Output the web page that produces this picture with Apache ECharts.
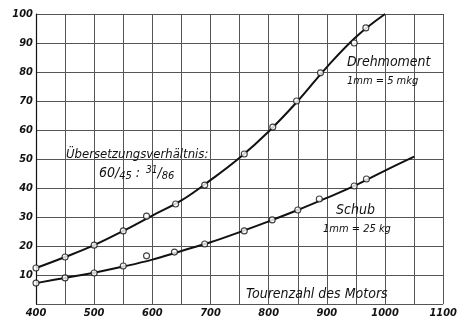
<!DOCTYPE html>
<html>
<head>
<meta charset="utf-8">
<script src="https://cdn.jsdelivr.net/npm/echarts@6/dist/echarts.min.js"></script>
<style>
  html, body { margin: 0; padding: 0; background: #fff; }
  #chart { width: 460px; height: 321px; }
</style>
</head>
<body>
<div id="chart"></div>
<script>
// Engine speed (rpm) for the faired curves
const torqueRpm = [400, 450, 500, 550, 600, 650, 700, 750, 800, 850, 900, 950, 1000];
const torqueCurve = [12.4, 16.2, 20.3, 25.2, 30.5, 35.7, 42.7, 50.4, 59.5, 70.0, 81.7, 92.1, 100];
const thrustRpm = [400, 450, 500, 550, 600, 650, 700, 750, 800, 850, 900, 950, 1000, 1050];
const thrustCurve = [7.2, 9.0, 10.8, 12.9, 15.3, 18.3, 21.3, 24.8, 28.5, 32.4, 36.6, 41.0, 46.0, 50.8];

// Measured points (rpm, reading in mm)
const torqueMeasRpm = [400, 450, 500, 550, 590, 640, 690, 758, 807, 848, 889, 947, 967];
const torqueMeas = [12.4, 16.2, 20.3, 25.2, 30.3, 34.5, 41.0, 51.7, 61.0, 70.0, 79.7, 90.0, 95.2];
const thrustMeasRpm = [400, 450, 500, 550, 590, 638, 690, 758, 806, 850, 887, 947, 968];
const thrustMeas = [7.2, 9.0, 10.7, 13.1, 16.6, 17.9, 20.7, 25.2, 29.0, 32.4, 36.2, 40.7, 43.1];

// Axis ticks
const xTicks = [400, 500, 600, 700, 800, 900, 1000, 1100];
const yTicks = [10, 20, 30, 40, 50, 60, 70, 80, 90, 100];

const pair = (xs, ys) => xs.map((x, i) => [x, ys[i]]);

const FONT = '"DejaVu Sans Condensed", "DejaVu Sans", sans-serif';
const gridColor = '#555';
const ink = '#111';

const chart = echarts.init(document.getElementById('chart'), null, { renderer: 'canvas' });

const tickLabel = {
  color: ink, fontSize: 11, fontStyle: 'italic', fontWeight: 'bold', fontFamily: FONT
};

chart.setOption({
  backgroundColor: '#fff',
  animation: false,
  grid: { left: 36, top: 14, right: 12, bottom: 17 },
  xAxis: {
    type: 'value', min: 400, max: 1100, interval: 50,
    axisLine: { show: false },
    axisTick: { show: false },
    axisLabel: Object.assign({ margin: 4, formatter: v => (xTicks.indexOf(v) >= 0 ? String(v) : '') }, tickLabel),
    splitLine: { show: true, lineStyle: { color: gridColor, width: 1 } }
  },
  yAxis: {
    type: 'value', min: 0, max: 100, interval: 10,
    axisLine: { show: true, lineStyle: { color: ink, width: 1.2 } },
    axisTick: { show: false },
    axisLabel: Object.assign({ margin: 3, formatter: v => (yTicks.indexOf(v) >= 0 ? String(v) : '') }, tickLabel),
    splitLine: { show: true, lineStyle: { color: gridColor, width: 1 } }
  },
  series: [
    {
      name: 'Drehmoment', type: 'line', smooth: 0.4, symbol: 'none',
      data: pair(torqueRpm, torqueCurve),
      lineStyle: { color: ink, width: 2 }, z: 3
    },
    {
      name: 'Schub', type: 'line', smooth: 0.4, symbol: 'none',
      data: pair(thrustRpm, thrustCurve),
      lineStyle: { color: ink, width: 2 }, z: 3
    },
    {
      type: 'scatter', symbol: 'circle', symbolSize: 6,
      data: pair(torqueMeasRpm, torqueMeas),
      itemStyle: { color: '#fff', borderColor: ink, borderWidth: 1.1 }, z: 4
    },
    {
      type: 'scatter', symbol: 'circle', symbolSize: 6,
      data: pair(thrustMeasRpm, thrustMeas),
      itemStyle: { color: '#fff', borderColor: ink, borderWidth: 1.1 }, z: 4
    }
  ],
  graphic: [
    { type: 'text', x: 347, y: 62, z: 10, style: { text: 'Drehmoment', fill: ink, font: 'italic 14px ' + FONT, textVerticalAlign: 'middle' } },
    { type: 'text', x: 347, y: 81, z: 10, style: { text: '1mm = 5 mkg', fill: ink, font: 'italic 11px ' + FONT, textVerticalAlign: 'middle' } },
    { type: 'text', x: 66, y: 155, z: 10, style: { text: 'Übersetzungsverhältnis:', fill: ink, font: 'italic 13px ' + FONT, textVerticalAlign: 'middle' } },
    {
      type: 'text', x: 99, y: 173, z: 10,
      style: {
        text: '{n|60}{s|/}{d|45}{n| : }{u|31}{s|/}{d|86}',
        fill: ink, textVerticalAlign: 'middle',
        rich: {
          n: { font: 'italic 14px ' + FONT, fill: ink },
          s: { font: 'italic 14px ' + FONT, fill: ink },
          d: { font: 'italic 11px ' + FONT, fill: ink, padding: [6, 0, 0, 0] },
          u: { font: 'italic 10px ' + FONT, fill: ink, padding: [0, 0, 5, 2] }
        }
      }
    },
    { type: 'text', x: 336, y: 210, z: 10, style: { text: 'Schub', fill: ink, font: 'italic 14px ' + FONT, textVerticalAlign: 'middle' } },
    { type: 'text', x: 323, y: 229, z: 10, style: { text: '1mm = 25 kg', fill: ink, font: 'italic 11px ' + FONT, textVerticalAlign: 'middle' } },
    { type: 'text', x: 246, y: 294, z: 10, style: { text: 'Tourenzahl des Motors', fill: ink, font: 'italic 14px ' + FONT, textVerticalAlign: 'middle' } }
  ]
});
</script>
</body>
</html>
